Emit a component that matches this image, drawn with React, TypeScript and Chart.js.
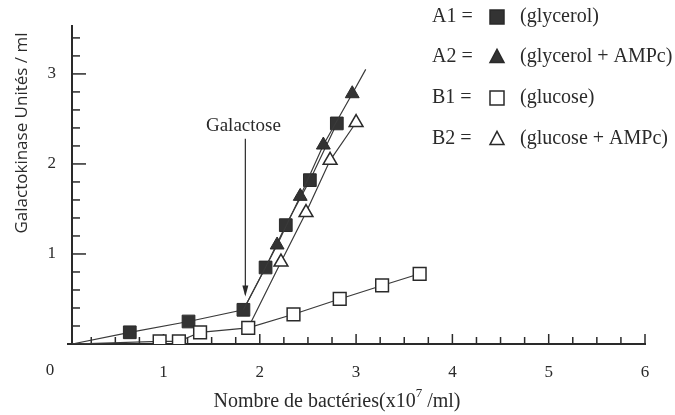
import React, { useEffect, useRef } from 'react';
import { Chart, registerables } from 'chart.js';

Chart.register(...registerables);

// Tick labels
const xTickValues = [1, 2, 3, 4, 5, 6];
const yTickValues = [1, 2, 3];

// A1 = glycerol (filled squares); first point is the curve origin (no marker)
const a1X = [0.05, 0.65, 1.26, 1.83, 2.06, 2.27, 2.52, 2.8];
const a1Y = [0, 0.13, 0.25, 0.38, 0.85, 1.32, 1.82, 2.45];
// A2 = glycerol + AMPc (filled triangles); starts at galactose addition, last point = line end
const a2X = [1.83, 2.18, 2.42, 2.66, 2.96, 3.1];
const a2Y = [0.38, 1.1, 1.64, 2.21, 2.78, 3.05];
// B1 = glucose (open squares)
const b1X = [0.05, 0.96, 1.16, 1.38, 1.88, 2.35, 2.83, 3.27, 3.66];
const b1Y = [0, 0.03, 0.03, 0.13, 0.18, 0.33, 0.5, 0.65, 0.78];
// B2 = glucose + AMPc (open triangles); starts at galactose addition
const b2X = [1.88, 2.22, 2.48, 2.73, 3.0];
const b2Y = [0.18, 0.91, 1.46, 2.04, 2.46];

const legendKeys = ['A1 =', 'A2 =', 'B1 =', 'B2 ='];
const legendLabels = ['(glycerol)', '(glycerol + AMPc)', '(glucose)', '(glucose + AMPc)'];
const arrowLabel = 'Galactose';
const arrowX = 1.85;
const arrowTopY = 2.28;
const arrowTipY = 0.55;
const xTitleMain = 'Nombre de bactéries(x10';
const xTitleSup = '7';
const xTitleEnd = ' /ml)';
const yTitle = 'Galactokinase Unités / ml';

const INK = '#2a2a2a';
const SERIF = '"Liberation Serif", "DejaVu Serif", serif';

function pts(xs: number[], ys: number[]) {
  return xs.map((x, i) => ({ x, y: ys[i] }));
}

function drawMarker(ctx: CanvasRenderingContext2D, kind: string, filled: boolean, cx: number, cy: number, s: number) {
  ctx.save();
  ctx.beginPath();
  if (kind === 'rect') {
    ctx.rect(cx - s / 2, cy - s / 2, s, s);
  } else {
    ctx.moveTo(cx, cy - s * 0.55);
    ctx.lineTo(cx + s / 2, cy + s * 0.4);
    ctx.lineTo(cx - s / 2, cy + s * 0.4);
    ctx.closePath();
  }
  ctx.fillStyle = filled ? '#333' : '#fff';
  ctx.fill();
  ctx.lineWidth = 1.5;
  ctx.strokeStyle = INK;
  ctx.stroke();
  ctx.restore();
}

const overlay = {
  id: 'overlay',
  beforeDatasetsDraw(chart: any) {
    const { ctx, chartArea, scales } = chart;
    const x = scales.x;
    const y = scales.y;
    ctx.save();
    ctx.strokeStyle = INK;
    ctx.lineWidth = 1.5;
    // y ticks (inward)
    for (let i = 1; i <= 17; i++) {
      const v = i * 0.2;
      const py = y.getPixelForValue(v);
      const len = i % 5 === 0 ? 14 : 8;
      ctx.beginPath();
      ctx.moveTo(chartArea.left, py);
      ctx.lineTo(chartArea.left + len, py);
      ctx.stroke();
    }
    // x ticks (inward)
    for (let i = 1; i <= 24; i++) {
      const v = i * 0.25;
      const px = x.getPixelForValue(v);
      const len = i % 4 === 0 ? 10 : 7;
      ctx.beginPath();
      ctx.moveTo(px, chartArea.bottom);
      ctx.lineTo(px, chartArea.bottom - len);
      ctx.stroke();
    }
    // x axis small extension left of the y axis
    ctx.lineWidth = 2;
    ctx.beginPath();
    ctx.moveTo(chartArea.left - 5, chartArea.bottom);
    ctx.lineTo(chartArea.left, chartArea.bottom);
    ctx.stroke();

    // Galactose arrow
    const ax = x.getPixelForValue(arrowX);
    const ay1 = y.getPixelForValue(arrowTopY);
    const ay2 = y.getPixelForValue(arrowTipY);
    ctx.lineWidth = 1.2;
    ctx.beginPath();
    ctx.moveTo(ax, ay1);
    ctx.lineTo(ax, ay2);
    ctx.stroke();
    ctx.fillStyle = INK;
    ctx.beginPath();
    ctx.moveTo(ax, ay2 + 2);
    ctx.lineTo(ax - 3, ay2 - 9);
    ctx.lineTo(ax + 3, ay2 - 9);
    ctx.closePath();
    ctx.fill();
    ctx.restore();
  },
  afterDraw(chart: any) {
    const { ctx, scales } = chart;
    const x = scales.x;
    const y = scales.y;
    ctx.save();
    ctx.fillStyle = INK;
    ctx.textBaseline = 'middle';

    // origin label
    ctx.font = `17px ${SERIF}`;
    ctx.textAlign = 'center';
    ctx.fillText('0', 50, 371);

    // Galactose label
    ctx.font = `19px ${SERIF}`;
    ctx.textAlign = 'center';
    ctx.fillText(arrowLabel, x.getPixelForValue(1.83), y.getPixelForValue(2.42));

    // x title with superscript
    ctx.font = `20px ${SERIF}`;
    const wMain = ctx.measureText(xTitleMain).width;
    ctx.font = `13px ${SERIF}`;
    const wSup = ctx.measureText(xTitleSup).width;
    ctx.font = `20px ${SERIF}`;
    const wEnd = ctx.measureText(xTitleEnd).width;
    const total = wMain + wSup + wEnd;
    let tx = 337 - total / 2;
    ctx.textAlign = 'left';
    ctx.fillText(xTitleMain, tx, 402);
    tx += wMain;
    ctx.font = `13px ${SERIF}`;
    ctx.fillText(xTitleSup, tx, 394);
    tx += wSup;
    ctx.font = `20px ${SERIF}`;
    ctx.fillText(xTitleEnd, tx, 402);

    // y title (rotated)
    ctx.save();
    ctx.translate(22, 133);
    ctx.rotate(-Math.PI / 2);
    ctx.textAlign = 'center';
    ctx.font = '17px "Open Sans", "DejaVu Sans", sans-serif';
    ctx.fillText(yTitle, 0, 0);
    ctx.restore();

    // legend
    const rows = [17, 57, 98, 139];
    const kinds = ['rect', 'tri', 'rect', 'tri'];
    const fills = [true, true, false, false];
    rows.forEach((ry, i) => {
      ctx.font = `20px ${SERIF}`;
      ctx.textAlign = 'left';
      ctx.fillStyle = INK;
      ctx.fillText(legendKeys[i], 432, ry);
      ctx.fillText(legendLabels[i], 520, ry);
      drawMarker(ctx, kinds[i], fills[i], 497, ry, 14);
    });
    ctx.restore();
  },
};

export default function App() {
  const ref = useRef<HTMLCanvasElement | null>(null);

  useEffect(() => {
    if (!ref.current) return;
    const lineColor = '#3a3a3a';
    const hideFirst = (n: number, r: number) => Array.from({ length: n }, (_, i) => (i === 0 ? 0 : r));
    const a2Radius = a2X.map((_, i) => (i === 0 || i === a2X.length - 1 ? 0 : 8));
    const chart = new Chart(ref.current, {
      type: 'scatter',
      data: {
        datasets: [
          {
            label: 'B1',
            data: pts(b1X, b1Y),
            showLine: true,
            borderColor: lineColor,
            borderWidth: 1.2,
            pointStyle: 'rect',
            pointRadius: hideFirst(b1X.length, 9),
            pointBackgroundColor: '#fff',
            pointBorderColor: INK,
            pointBorderWidth: 1.5,
          },
          {
            label: 'B2',
            data: pts(b2X, b2Y),
            showLine: true,
            borderColor: lineColor,
            borderWidth: 1.2,
            pointStyle: 'triangle',
            pointRadius: hideFirst(b2X.length, 8),
            pointBackgroundColor: '#fff',
            pointBorderColor: INK,
            pointBorderWidth: 1.5,
          },
          {
            label: 'A2',
            data: pts(a2X, a2Y),
            showLine: true,
            borderColor: lineColor,
            borderWidth: 1.2,
            pointStyle: 'triangle',
            pointRadius: a2Radius,
            pointBackgroundColor: '#333',
            pointBorderColor: INK,
            pointBorderWidth: 1,
          },
          {
            label: 'A1',
            data: pts(a1X, a1Y),
            showLine: true,
            borderColor: lineColor,
            borderWidth: 1.2,
            pointStyle: 'rect',
            pointRadius: hideFirst(a1X.length, 9),
            pointBackgroundColor: '#333',
            pointBorderColor: INK,
            pointBorderWidth: 1,
          },
        ],
      },
      options: {
        animation: false,
        responsive: true,
        maintainAspectRatio: false,
        layout: { padding: { top: 10, right: 30, left: 0, bottom: 0 } },
        plugins: { legend: { display: false }, tooltip: { enabled: false } },
        scales: {
          x: {
            type: 'linear',
            min: 0.05,
            max: 6,
            afterBuildTicks: (s: any) => {
              s.ticks = xTickValues.map((v) => ({ value: v }));
            },
            afterFit: (s: any) => {
              s.height = 71;
            },
            grid: { display: false, drawTicks: false },
            border: { display: true, color: INK, width: 2 },
            ticks: {
              color: INK,
              font: { family: SERIF, size: 17 },
              padding: 18,
              maxRotation: 0,
              autoSkip: false,
            },
          },
          y: {
            type: 'linear',
            min: 0,
            max: 3.53,
            afterBuildTicks: (s: any) => {
              s.ticks = yTickValues.map((v) => ({ value: v }));
            },
            afterFit: (s: any) => {
              s.width = 72;
            },
            grid: { display: false, drawTicks: false },
            border: { display: true, color: INK, width: 2 },
            ticks: {
              color: INK,
              font: { family: SERIF, size: 17 },
              padding: 16,
              autoSkip: false,
            },
          },
        },
      },
      plugins: [overlay],
    });
    return () => chart.destroy();
  }, []);

  return (
    <div style={{ position: 'fixed', left: 0, top: 0, width: 675, height: 415, background: '#fff' }}>
      <canvas ref={ref} />
    </div>
  );
}
